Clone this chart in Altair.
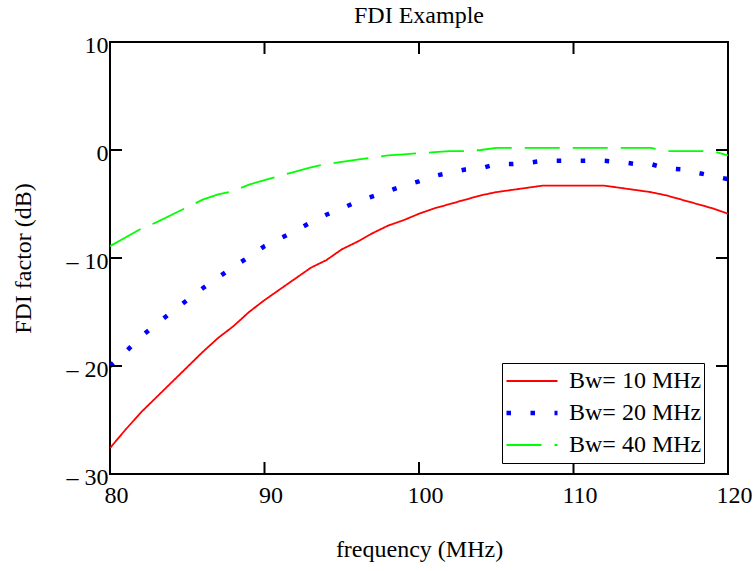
import altair as alt
import pandas as pd

# ---- data ----
freq = list(range(80, 121))
bw10 = [-27.6, -25.9, -24.3, -22.9, -21.5, -20.1, -18.7, -17.4, -16.3, -15.0,
        -13.9, -12.9, -11.9, -10.9, -10.2, -9.2, -8.5, -7.7, -7.0, -6.5,
        -5.9, -5.4, -5.0, -4.6, -4.2, -3.9, -3.7, -3.5, -3.3, -3.3,
        -3.3, -3.3, -3.3, -3.5, -3.7, -3.9, -4.2, -4.6, -5.0, -5.4, -5.9]
bw20 = [-20.0, -18.7, -17.3, -16.1, -15.0, -13.9, -12.8, -11.8, -10.8, -9.9,
        -8.9, -8.2, -7.5, -6.7, -6.0, -5.4, -4.8, -4.3, -3.8, -3.3,
        -2.9, -2.4, -2.1, -1.8, -1.7, -1.3, -1.3, -1.2, -1.0, -1.0,
        -1.0, -1.0, -1.0, -1.1, -1.3, -1.3, -1.7, -1.8, -2.1, -2.4, -2.7]
bw40 = [-8.9, -8.1, -7.3, -6.7, -6.0, -5.3, -4.6, -4.1, -3.8, -3.2,
        -2.8, -2.4, -2.0, -1.6, -1.3, -1.1, -0.9, -0.7, -0.5, -0.4,
        -0.3, -0.2, -0.1, -0.1, 0.0, 0.2, 0.2, 0.2, 0.2, 0.2,
        0.2, 0.2, 0.2, 0.2, 0.2, 0.2, -0.1, -0.1, -0.1, -0.1, -0.5]
series_names = ["Bw= 10 MHz", "Bw= 20 MHz", "Bw= 40 MHz"]
series_colors = ["#ff0000", "#0000ff", "#00ff00"]
x_ticks = [80, 90, 100, 110, 120]
y_ticks = [-30, -20, -10, 0, 10]
x_title = "frequency (MHz)"
y_title = "FDI factor (dB)"

rows = []
for name, vals in zip(series_names, [bw10, bw20, bw40]):
    for f, v in zip(freq, vals):
        rows.append({"freq": f, "fdi": v, "series": name})
df = pd.DataFrame(rows)
xt = pd.DataFrame({"t": x_ticks})
yt = pd.DataFrame({"t": y_ticks})

W, H = 618, 432
FONT = "Liberation Serif"
FS = 24
xs = alt.Scale(domain=[80, 120], nice=False, zero=False)
ys = alt.Scale(domain=[-30, 10], nice=False, zero=False)

x_axis = alt.Axis(
    values=x_ticks, title=x_title, domain=False, ticks=False,
    tickSize=0, grid=False, labelPadding=9, labelOffset=6,
    labelFontSize=FS, labelFont=FONT, labelColor="black",
    labelFlush=False, labelOverlap=False,
    titleFont=FONT, titleFontSize=FS, titleFontWeight="normal",
    titleColor="black", titleY=82, titleBaseline="alphabetic")
y_axis = alt.Axis(
    values=y_ticks, title=y_title, domain=False, ticks=False,
    tickSize=0, grid=False, labelPadding=2, labelOffset=3,
    labelExpr="datum.value < 0 ? '\u2013 ' + abs(datum.value) : '' + datum.value",
    labelFontSize=FS, labelFont=FONT, labelColor="black",
    labelFlush=False, labelOverlap=False,
    titleFont=FONT, titleFontSize=FS, titleFontWeight="normal",
    titleColor="black", titleX=-80, titleY=H / 2, titleAngle=270,
    titleAlign="center", titleBaseline="alphabetic")

lines = alt.Chart(df).mark_line(clip=True).encode(
    x=alt.X("freq:Q", scale=xs, axis=x_axis, title=x_title),
    y=alt.Y("fdi:Q", scale=ys, axis=y_axis, title=y_title),
    color=alt.Color("series:N", scale=alt.Scale(domain=series_names, range=series_colors),
                    legend=alt.Legend(title=None)),
    strokeDash=alt.StrokeDash("series:N",
                              scale=alt.Scale(domain=series_names, range=[[1, 0], [4.5, 19.5], [35, 13]]),
                              legend=alt.Legend(title=None)),
    strokeWidth=alt.StrokeWidth("series:N",
                                scale=alt.Scale(type="ordinal", domain=series_names, range=[1.8, 4.5, 1.8]),
                                legend=alt.Legend(title=None)),
    order="freq:Q",
)

tick_style = dict(color="black", strokeWidth=2)
left_ticks = alt.Chart(yt).mark_rule(**tick_style).encode(
    y=alt.Y("t:Q", scale=ys, title=y_title), x=alt.value(0), x2=alt.value(12))
right_ticks = alt.Chart(yt).mark_rule(**tick_style).encode(
    y=alt.Y("t:Q", scale=ys, title=y_title), x=alt.value(W - 12), x2=alt.value(W))
bottom_ticks = alt.Chart(xt).mark_rule(**tick_style).encode(
    x=alt.X("t:Q", scale=xs, title=x_title), y=alt.value(H - 12), y2=alt.value(H))
top_ticks = alt.Chart(xt).mark_rule(**tick_style).encode(
    x=alt.X("t:Q", scale=xs, title=x_title), y=alt.value(0), y2=alt.value(12))

chart = alt.layer(lines, left_ticks, right_ticks, bottom_ticks, top_ticks).properties(
    width=W, height=H,
    autosize=alt.AutoSizeParams(type="none"),
    padding={"left": 110, "top": 42, "right": 27, "bottom": 97},
    title=alt.TitleParams("FDI Example", font=FONT, fontSize=FS, fontWeight="normal",
                          color="black", anchor="middle", frame="group",
                          baseline="alphabetic", offset=0, dy=14),
).configure_view(
    stroke="black", strokeWidth=2
).configure_legend(
    orient="none", legendX=392, legendY=321,
    strokeColor="black", fillColor="white", padding=2,
    labelFont=FONT, labelFontSize=FS, labelColor="black", labelOffset=9,
    symbolType="stroke", symbolSize=2601, clipHeight=32, rowPadding=0,
    labelLimit=300,
)

chart.save("out.html", embed_options={"renderer": "svg", "actions": False})
